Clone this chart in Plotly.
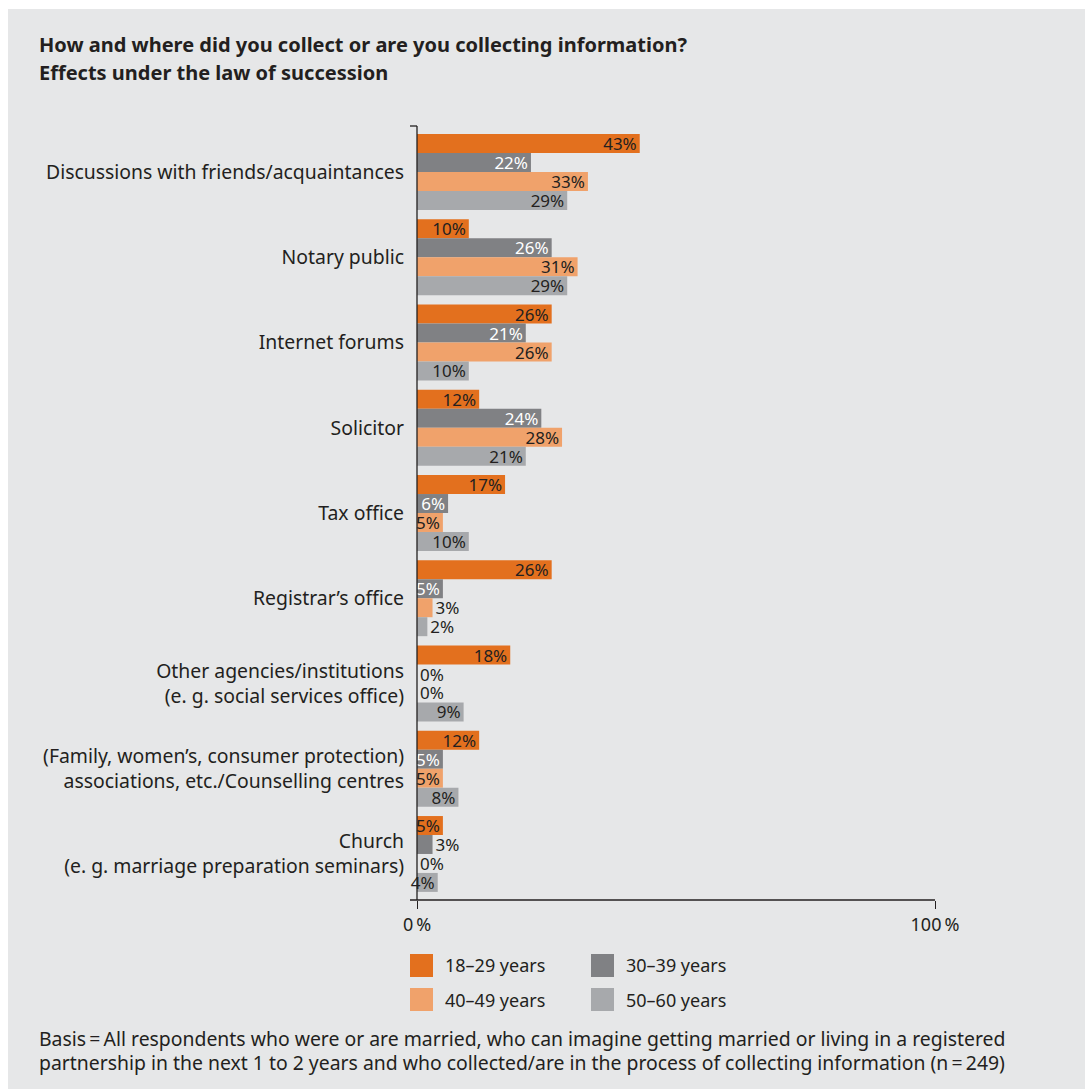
import plotly.graph_objects as go

# Survey data: share of respondents per information source and age group
categories = [
    "Discussions with friends/acquaintances",
    "Notary public",
    "Internet forums",
    "Solicitor",
    "Tax office",
    "Registrar’s office",
    "Other agencies/institutions<br>(e. g. social services office)",
    "(Family, women’s, consumer protection)<br>associations, etc./Counselling centres",
    "Church<br>(e. g. marriage preparation seminars)",
]
age_groups = ["18–29 years", "30–39 years", "40–49 years", "50–60 years"]
age_18_29 = [43, 10, 26, 12, 17, 26, 18, 12, 5]
age_30_39 = [22, 26, 21, 24, 6, 5, 0, 5, 3]
age_40_49 = [33, 31, 26, 28, 5, 3, 0, 5, 0]
age_50_60 = [29, 29, 10, 21, 10, 2, 9, 8, 4]
x_ticks = [0, 100]

series = [age_18_29, age_30_39, age_40_49, age_50_60]
colors = ["#e3701e", "#808184", "#f0a26b", "#a7a9ac"]
inside_text_colors = ["#231f20", "#ffffff", "#231f20", "#231f20"]
DARK = "#231f20"
FONT = "Noto Sans"

W, H = 1085, 1089


def fx(px):
    return px / W


def fy(py):
    return 1 - py / H


fig = go.Figure()
for name, vals, col, tcol in zip(age_groups, series, colors, inside_text_colors):
    fig.add_trace(go.Bar(
        name=name,
        y=categories,
        x=vals,
        orientation="h",
        marker=dict(color=col, line=dict(width=0)),
        text=[f"{v}%" for v in vals],
        textposition=["inside" if v >= 4 else "outside" for v in vals],
        insidetextanchor="end",
        insidetextfont=dict(family=FONT, size=17, color=tcol),
        outsidetextfont=dict(family=FONT, size=17, color=DARK),
        constraintext="none",
        cliponaxis=False,
        showlegend=False,
        hoverinfo="skip",
    ))

shapes = [
    # grey panel behind everything
    dict(type="rect", xref="paper", yref="paper", x0=fx(8), x1=fx(1085),
         y0=fy(1089), y1=fy(9), fillcolor="#e6e7e8", line=dict(width=0),
         layer="below"),
    # axis lines
    dict(type="line", xref="paper", yref="paper", x0=fx(410), x1=fx(935),
         y0=fy(900), y1=fy(900), line=dict(color=DARK, width=1.3)),
    dict(type="line", xref="paper", yref="paper", x0=fx(417), x1=fx(417),
         y0=fy(900), y1=fy(126), line=dict(color=DARK, width=1.3)),
    dict(type="line", xref="paper", yref="paper", x0=fx(410), x1=fx(417),
         y0=fy(126), y1=fy(126), line=dict(color=DARK, width=1.3)),
]

annotations = [
    dict(text="<b>How and where did you collect or are you collecting information?</b>",
         x=fx(37), y=fy(45), size=20),
    dict(text="<b>Effects under the law of succession</b>",
         x=fx(37), y=fy(72), size=20),
    dict(text="Basis\u2009=\u2009All respondents who were or are married, who can imagine getting married or living in a registered",
         x=fx(37), y=fy(1038), size=19.4),
    dict(text="partnership in the next 1 to 2 years and who collected/are in the process of collecting information (n\u2009=\u2009249)",
         x=fx(37), y=fy(1062), size=19.4),
]
for a in annotations:
    size = a.pop("size")
    a.update(xref="paper", yref="paper", showarrow=False,
             xanchor="left", yanchor="middle",
             font=dict(family=FONT, size=size, color=DARK))

# legend drawn as swatches with labels in a 2x2 grid
legend_cells = [(410, 954), (591, 954), (410, 988), (591, 988)]
for (lx, ly), name, col in zip(legend_cells, age_groups, colors):
    shapes.append(dict(type="rect", xref="paper", yref="paper",
                       x0=fx(lx), x1=fx(lx + 23), y0=fy(ly + 23), y1=fy(ly),
                       fillcolor=col, line=dict(width=0)))
    annotations.append(dict(text=name, xref="paper", yref="paper",
                            x=fx(lx + 33), y=fy(ly + 11.5), xanchor="left",
                            yanchor="middle", showarrow=False,
                            font=dict(family=FONT, size=18, color=DARK)))

fig.update_layout(
    width=W, height=H,
    autosize=False,
    margin=dict(l=0, r=0, t=0, b=0, pad=0, autoexpand=False),
    paper_bgcolor="#ffffff",
    plot_bgcolor="rgba(0,0,0,0)",
    barmode="group",
    bargap=0.11,
    bargroupgap=0,
    uniformtext=dict(minsize=17, mode="show"),
    font=dict(family=FONT, color=DARK),
    shapes=shapes,
    annotations=annotations,
    xaxis=dict(
        domain=[fx(417), fx(935)],
        range=[0, 100],
        tickvals=x_ticks,
        ticktext=[f"{t}\u2009%" for t in x_ticks],
        ticks="outside", ticklen=8, tickcolor=DARK, tickwidth=1.3,
        showgrid=False, zeroline=False, showline=False,
        automargin=False,
        tickfont=dict(family=FONT, size=18, color=DARK),
        fixedrange=True,
    ),
    yaxis=dict(
        domain=[fy(900), fy(126)],
        type="category",
        categoryorder="array",
        categoryarray=categories,
        range=[8.54, -0.54],
        showgrid=False, zeroline=False, showline=False, ticks="",
        automargin=False,
        ticklabelstandoff=12,
        tickfont=dict(family=FONT, size=19.4, color=DARK),
        fixedrange=True,
    ),
)

fig.write_html("out.html")
